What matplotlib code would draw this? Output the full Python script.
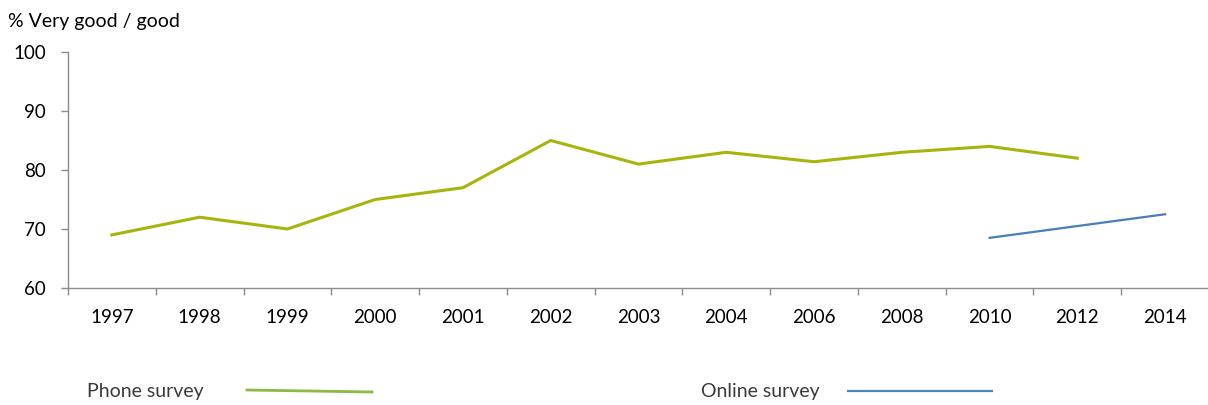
import matplotlib.pyplot as plt
from matplotlib.lines import Line2D
import numpy as np

# Data
years = ["1997", "1998", "1999", "2000", "2001", "2002", "2003",
         "2004", "2006", "2008", "2010", "2012", "2014"]
phone = [69, 72, 70, 75, 77, 85, 81, 83, 81.4, 83, 84, 82]
online_years = ["2010", "2014"]
online = [68.5, 72.5]

green = "#A8B40C"
blue = "#4A7EBB"
axis_grey = "#8C8C8C"

plt.rcParams["font.family"] = ["Lato", "DejaVu Sans"]

fig = plt.figure(figsize=(12.08, 4.05), dpi=100)
ax = fig.add_axes([68 / 1208, 117 / 405, 1141 / 1208, 236 / 405])

x = np.arange(len(years))
ax.plot(x[:len(phone)], phone, color=green, linewidth=2.2, solid_joinstyle="miter")
online_x = [years.index(y) for y in online_years]
ax.plot(online_x, online, color=blue, linewidth=1.6)

ax.set_xlim(-0.5, len(years) - 0.5)
ax.set_ylim(60, 100)
ax.set_yticks([60, 70, 80, 90, 100])

# category labels centred, tick marks at boundaries
ax.set_xticks(x)
ax.set_xticklabels(years)
ax.set_xticks(np.arange(-0.5, len(years)), minor=True)
ax.tick_params(axis="x", which="major", length=0, pad=15, labelsize=13.5)
ax.tick_params(axis="x", which="minor", length=5, width=1, color=axis_grey, direction="out")
ax.tick_params(axis="y", length=5, width=1, color=axis_grey, pad=11, labelsize=13.5)

for side in ["top", "right"]:
    ax.spines[side].set_visible(False)
for side in ["left", "bottom"]:
    ax.spines[side].set_color(axis_grey)
    ax.spines[side].set_linewidth(1)

fig.text(8 / 1208, 1 - 22 / 405, "% Very good / good", fontsize=14, va="center", ha="left")

# legend at the bottom
fig.text(87 / 1208, 1 - 392 / 405, "Phone survey", fontsize=14, color="#3A3A3A", va="center")
fig.add_artist(Line2D([247 / 1208, 372 / 1208], [1 - 390 / 405, 1 - 392 / 405],
                      color="#8DB842", linewidth=2, transform=fig.transFigure))
fig.text(701 / 1208, 1 - 392 / 405, "Online survey", fontsize=14, color="#3A3A3A", va="center")
fig.add_artist(Line2D([848 / 1208, 992 / 1208], [1 - 391 / 405, 1 - 391 / 405],
                      color="#4F81BD", linewidth=1.6, transform=fig.transFigure))

fig.savefig("out.png", dpi=100)
